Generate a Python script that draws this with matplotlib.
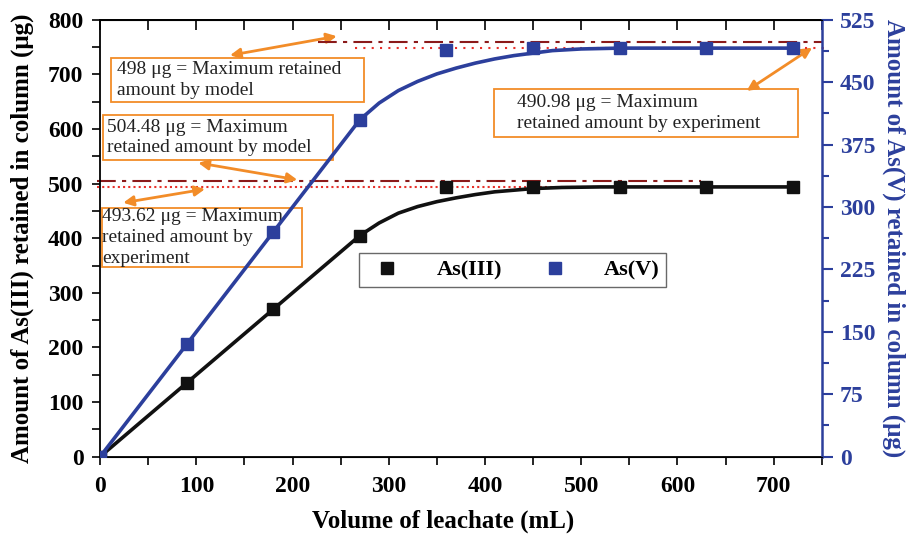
import matplotlib
matplotlib.use("Agg")
import matplotlib.pyplot as plt
from matplotlib.patches import Rectangle
from matplotlib.lines import Line2D
from matplotlib.ticker import MultipleLocator

plt.rcParams["font.family"] = ["Liberation Serif", "DejaVu Serif"]

# column data: volume of leachate (mL) and retained arsenic (ug)
volume = [0, 90, 180, 270, 360, 450, 540, 630, 720]
as3_exp = [0, 135, 270, 405, 494, 494, 494, 494, 494]
as5_exp = [0, 135, 270, 405, 489, 491, 491, 491, 491]

# fitted model curves
as3_fit_x = [0, 90, 180, 270, 290, 310, 330, 350, 370, 390, 410, 430, 450, 480, 520, 720]
as3_fit_y = [0, 135, 270, 405, 428, 446, 458, 467, 474, 480, 485, 488, 491, 493, 494, 494]
as5_fit_x = [0, 90, 180, 270, 290, 310, 330, 350, 370, 390, 410, 430, 450, 470, 500, 540, 720]
as5_fit_y = [0, 135, 270, 405, 425, 440, 451, 460, 467, 473, 478, 482, 485, 488, 490, 491, 491]

# maximum retained amounts
as3_max_model = 504.48
as3_max_exp = 493.62
as5_max_model = 498
as5_max_exp = 490.98

BLUE = "#2c3f9c"
ORANGE = "#f28c28"
DARKRED = "#8b1a1a"
RED = "#e8302a"

fig = plt.figure(figsize=(9.1, 5.36), dpi=100)
ax = fig.add_axes([0.110, 0.148, 0.793, 0.815])
ax2 = ax.twinx()

ax.plot(as3_fit_x, as3_fit_y, color="#111111", lw=2.6, zorder=3)
ax.plot(volume, as3_exp, "s", color="#111111", ms=8, zorder=4)
ax2.plot(as5_fit_x, as5_fit_y, color=BLUE, lw=2.6, zorder=3)
ax2.plot(volume, as5_exp, "s", color=BLUE, ms=8, zorder=4)

# reference lines for maximum retained amounts
ax.plot([-3, 625], [as3_max_model] * 2, color=DARKRED, lw=1.5,
        ls=(0, (9, 3, 2, 3)), clip_on=False, zorder=2)
ax.plot([-3, 625], [as3_max_exp] * 2, color=RED, lw=1.5,
        ls=(0, (1, 1.5)), clip_on=False, zorder=2)
ax2.plot([226, 750], [as5_max_model] * 2, color=DARKRED, lw=1.5,
         ls=(0, (9, 3, 2, 3)), clip_on=False, zorder=2)
ax2.plot([265, 758], [as5_max_exp] * 2, color=RED, lw=1.5,
         ls=(0, (1, 3)), clip_on=False, zorder=2)

ax.set_xlim(0, 750)
ax.set_ylim(0, 800)
ax2.set_ylim(0, 525)

ax.xaxis.set_major_locator(MultipleLocator(100))
ax.xaxis.set_minor_locator(MultipleLocator(50))
ax.yaxis.set_major_locator(MultipleLocator(100))
ax.yaxis.set_minor_locator(MultipleLocator(50))
ax2.yaxis.set_major_locator(MultipleLocator(75))
ax2.yaxis.set_minor_locator(MultipleLocator(37.5))

ax.tick_params(axis="x", which="both", direction="out", length=6, width=1.2,
               labelsize=17, pad=8)
ax.tick_params(axis="y", which="both", direction="out", length=6, width=1.2,
               labelsize=17, pad=6)
ax2.tick_params(axis="y", which="major", direction="out", length=8, width=1.5,
                colors=BLUE, labelsize=17, pad=5)
ax2.tick_params(axis="y", which="minor", direction="out", length=5, width=1.5,
                colors=BLUE)
for lab in ax.get_xticklabels() + ax.get_yticklabels() + ax2.get_yticklabels():
    lab.set_fontweight("bold")

# inward ticks along the top edge
top = ax.secondary_xaxis("top")
top.xaxis.set_major_locator(MultipleLocator(50))
top.tick_params(axis="x", direction="in", length=7, width=1.2, labeltop=False)
top.spines["top"].set_linewidth(1.3)

for s in ["left", "bottom", "top"]:
    ax.spines[s].set_linewidth(1.3)
ax2.spines["right"].set_color(BLUE)
ax2.spines["right"].set_linewidth(1.8)
ax2.spines["left"].set_visible(False)
ax.spines["right"].set_visible(False)

ax.set_xlabel("Volume of leachate (mL)", fontsize=18, fontweight="bold")
ax.xaxis.set_label_coords(0.475, -0.121)
ax.set_ylabel("Amount of As(III) retained in column (μg)", fontsize=18,
              fontweight="bold", labelpad=10)
ax2.set_ylabel("Amount of As(V) retained in column (μg)", fontsize=18,
               fontweight="bold", color=BLUE, rotation=270, labelpad=22)

# annotation boxes (left-axis data coordinates)
boxes = [
    ((11, 650), 263, 80, 17.7, "498 μg = Maximum retained\namount by model"),
    ((3, 543), 239, 83, 7, "504.48 μg = Maximum\nretained amount by model"),
    ((2, 347), 208, 108, 2, "493.62 μg = Maximum\nretained amount by\nexperiment"),
    ((409, 585), 316, 88, 433, "490.98 μg = Maximum\nretained amount by experiment"),
]
for (bx, by), w, h, tx, txt in boxes:
    ax.add_patch(Rectangle((bx, by), w, h, facecolor="white", edgecolor=ORANGE,
                           lw=1.3, zorder=5, clip_on=False))
    ax.text(tx, by + h / 2, txt, ha="left", va="center", fontsize=14,
            linespacing=1.3, zorder=6, color="#222222")

arrows = [
    ((135, 735), (246, 770)),
    ((102, 538), (205, 507)),
    ((24, 465), (109, 490)),
    ((672, 670), (740, 749)),
]
for p1, p2 in arrows:
    ax.annotate("", xy=p2, xytext=p1,
                arrowprops=dict(arrowstyle="<|-|>", color=ORANGE, lw=2,
                                mutation_scale=15, shrinkA=0, shrinkB=0),
                zorder=6, annotation_clip=False)

handles = [
    Line2D([], [], ls="none", marker="s", color="#111111", ms=8, label="As(III)"),
    Line2D([], [], ls="none", marker="s", color=BLUE, ms=8, label="As(V)"),
]
leg = fig.legend(handles=handles, ncol=2, loc="center",
                 bbox_to_anchor=((362 + 663) / 2 / 910, 1 - 270 / 536),
                 prop=dict(family="Liberation Serif", weight="bold", size=16),
                 frameon=True, fancybox=False, edgecolor="#444444",
                 handletextpad=1.2, columnspacing=1.4, borderpad=0.3)
leg.get_frame().set_linewidth(1.0)

fig.savefig("out.png", dpi=100)
